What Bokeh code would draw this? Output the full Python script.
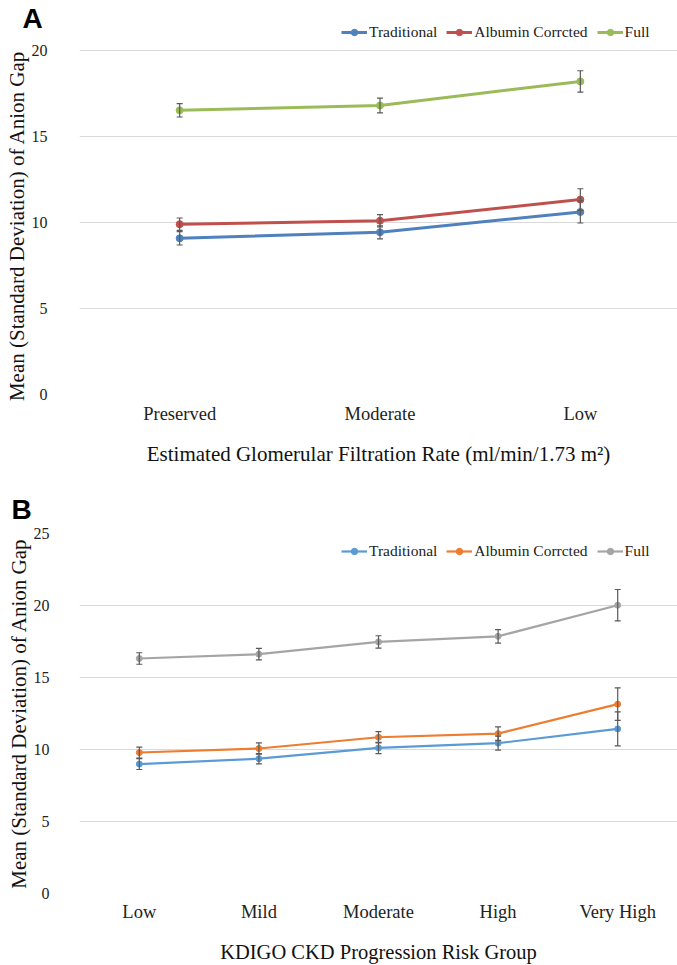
from bokeh.plotting import figure
from bokeh.models import (ColumnDataSource, Whisker, Legend, LegendItem, FixedTicker,
                          Range1d, Title, TeeHead)
from bokeh.layouts import column
from bokeh.embed import file_html
from bokeh.resources import INLINE

# ---------------- data ----------------
a_categories = ["Preserved", "Moderate", "Low"]
a_traditional = [9.08, 9.43, 10.61]
a_traditional_sd = [0.39, 0.38, 0.64]
a_albumin = [9.90, 10.10, 11.33]
a_albumin_sd = [0.36, 0.36, 0.63]
a_full = [16.52, 16.80, 18.20]
a_full_sd = [0.39, 0.43, 0.62]

b_categories = ["Low", "Mild", "Moderate", "High", "Very High"]
b_traditional = [8.99, 9.36, 10.11, 10.44, 11.43]
b_traditional_sd = [0.38, 0.36, 0.39, 0.48, 1.18]
b_albumin = [9.79, 10.07, 10.85, 11.10, 13.15]
b_albumin_sd = [0.38, 0.39, 0.39, 0.47, 1.13]
b_full = [16.32, 16.62, 17.47, 17.86, 20.02]
b_full_sd = [0.40, 0.40, 0.43, 0.47, 1.09]

series_names = ["Traditional", "Albumin Corrcted", "Full"]
a_colors = ["#4F81BD", "#C0504D", "#9BBB59"]
b_colors = ["#5B9BD5", "#ED7D31", "#A5A5A5"]
y_title = "Mean (Standard Deviation) of Anion Gap"

SERIF = "Liberation Serif"
ERR = "#595959"


def make_panel(cats, series, sds, colors, y_end, yticks, height, border_top, border_bottom,
               border_left, x_end, xtitle, ytitle, letter, letter_offset, letter_standoff,
               legend_xy, lw, msize, ylab_standoff, ytitle_standoff, xlab_standoff,
               xtitle_standoff, xtitle_size):
    xs = list(range(len(cats)))
    title = Title(text=letter, align="left", vertical_align="top", offset=letter_offset,
                  standoff=letter_standoff,
                  text_font="Liberation Sans", text_font_style="bold",
                  text_font_size="28px", text_color="black")
    p = figure(width=677, height=height, output_backend="svg", toolbar_location=None,
               x_range=Range1d(-0.5, x_end), y_range=Range1d(0, y_end),
               min_border_top=border_top, min_border_bottom=border_bottom,
               min_border_left=border_left, min_border_right=0, title=title)
    p.outline_line_color = None
    p.background_fill_color = "white"
    p.border_fill_color = "white"

    p.xaxis.ticker = FixedTicker(ticks=xs)
    p.xaxis.major_label_overrides = {i: c for i, c in enumerate(cats)}
    p.yaxis.ticker = FixedTicker(ticks=yticks)
    for ax in (p.xaxis, p.yaxis):
        ax.axis_line_color = None
        ax.major_tick_line_color = None
        ax.minor_tick_line_color = None
        ax.major_label_text_font = SERIF
        ax.major_label_text_color = "#222222"
        ax.axis_label_text_font = SERIF
        ax.axis_label_text_font_style = "normal"
        ax.axis_label_text_color = "#111111"
        ax.axis_label_text_line_height = 1.0
        ax.major_label_text_line_height = 1.0
    p.yaxis.major_label_text_font_size = "16px"
    p.yaxis.axis_label_text_font_size = "21px"
    p.xaxis.major_label_text_font_size = "18.5px"
    p.xaxis.axis_label_text_font_size = xtitle_size
    p.yaxis.major_label_standoff = ylab_standoff
    p.yaxis.axis_label_standoff = ytitle_standoff
    p.xaxis.major_label_standoff = xlab_standoff
    p.xaxis.axis_label_standoff = xtitle_standoff
    p.xaxis.axis_label = xtitle
    p.yaxis.axis_label = ytitle
    p.xgrid.grid_line_color = None
    p.ygrid.ticker = FixedTicker(ticks=yticks)
    p.ygrid.grid_line_color = "#D9D9D9"
    p.ygrid.grid_line_width = 1

    items = []
    for name, vals, sd, col in zip(series_names, series, sds, colors):
        src = ColumnDataSource(dict(x=xs, y=vals,
                                    upper=[v + s for v, s in zip(vals, sd)],
                                    lower=[v - s for v, s in zip(vals, sd)]))
        ln = p.line("x", "y", source=src, line_color=col, line_width=lw)
        sc = p.scatter("x", "y", source=src, size=msize, fill_color=col, line_color=col)
        wh = Whisker(base="x", upper="upper", lower="lower", source=src,
                     line_color=ERR, line_width=1.2, level="overlay",
                     upper_head=TeeHead(size=6, line_color=ERR, line_width=1.2),
                     lower_head=TeeHead(size=6, line_color=ERR, line_width=1.2))
        p.add_layout(wh)
        items.append(LegendItem(label=name, renderers=[ln, sc]))

    legend = Legend(items=items, orientation="horizontal", location=legend_xy,
                    label_text_font=SERIF, label_text_font_size="15.5px",
                    label_text_color="#222222",
                    glyph_width=26, glyph_height=16, spacing=9, label_standoff=2,
                    padding=0, margin=0, border_line_color=None,
                    background_fill_alpha=0)
    p.add_layout(legend)
    return p


# panel A: frame 374 px tall (17.2 px per unit); the frame reaches above the 20 gridline
# so that the legend sits where the reference has it.  Non-breaking spaces at the end of
# the y title centre its visible text on the 0-20 span rather than the whole frame.
pa = make_panel(a_categories, [a_traditional, a_albumin, a_full],
                [a_traditional_sd, a_albumin_sd, a_full_sd], a_colors,
                21.74, [0, 5, 10, 15, 20], 477, 20, 83, 79, 2.485,
                "Estimated Glomerular Filtration Rate (ml/min/1.73 m\u00b2)",
                y_title + "\u00a0" * 7,
                "A", -57, -31, (262, 353), 3, 7, 26, 0, 3, 15, "21px")

pb = make_panel(b_categories, [b_traditional, b_albumin, b_full],
                [b_traditional_sd, b_albumin_sd, b_full_sd], b_colors,
                25, [0, 5, 10, 15, 20, 25], 488, 56, 72, 79, 4.5,
                "KDIGO CKD Progression Risk Group", y_title,
                "B", -68, 14, (262, 333), 2.2, 6, 24, 0, 2, 16, "20.5px")

layout = column(pa, pb, spacing=0)
open("out.html", "w").write(file_html(layout, INLINE))
